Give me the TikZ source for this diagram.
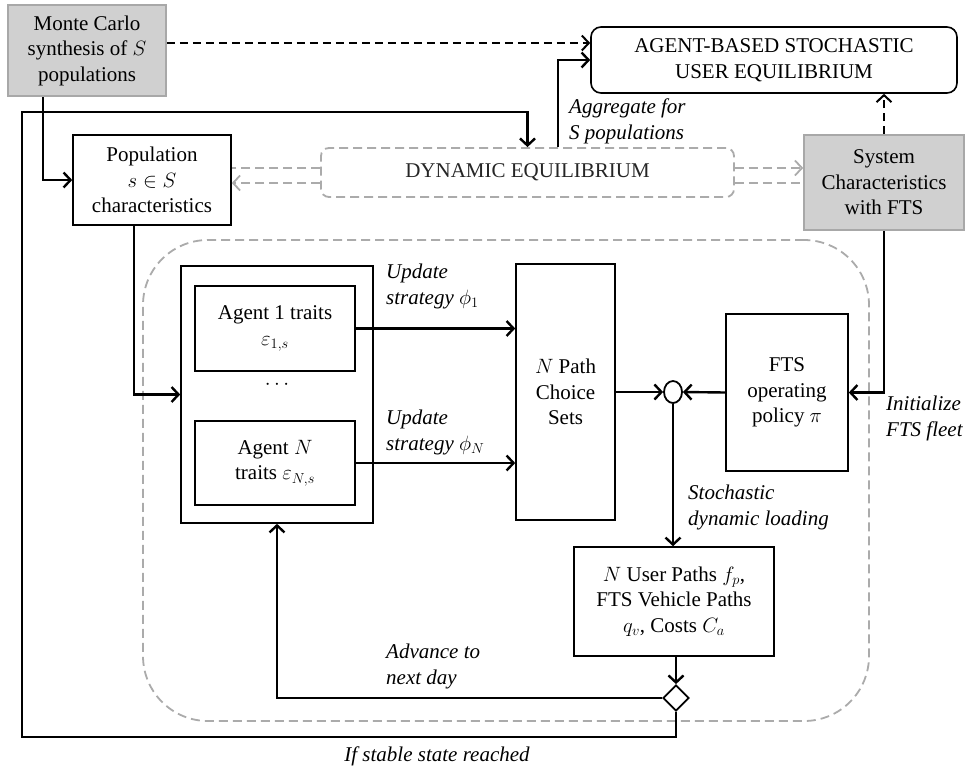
\documentclass[tikz,border=0pt]{standalone}
\usepackage{fontspec}
\setmainfont{Liberation Serif}
\usetikzlibrary{arrows.meta,shapes.geometric,calc}
\definecolor{boxgray}{HTML}{D0D0D0}
\definecolor{edgegray}{HTML}{A8A8A8}
\definecolor{dashgray}{HTML}{ABABAB}
\tikzset{
  every node/.style={font=\fontsize{21}{25.5}\selectfont},
  blk/.style={draw=black, line width=1.6pt, inner sep=0pt, align=center, fill=white},
  shaded/.style={draw=edgegray, line width=1.6pt, fill=boxgray, inner sep=0pt, align=center},
  arr/.style={line width=2.4pt, -{Straight Barb[length=7pt,width=15pt]}},
  blkdash/.style={line width=2pt, dash pattern=on 8pt off 5pt, -{Straight Barb[length=7pt,width=15pt]}},
  gdash/.style={draw=dashgray, line width=1.8pt, dash pattern=on 9pt off 5pt},
  garr/.style={gdash, -{Straight Barb[length=7pt,width=15pt]}},
  lbl/.style={font=\fontsize{21}{26}\selectfont\itshape, align=left, inner sep=0pt, anchor=west},
}
\begin{document}
\begin{tikzpicture}[x=1pt, y=-1pt]
\useasboundingbox[fill=white] (0,0) rectangle (966,769);

% container
\node[gdash, rounded corners=65pt, minimum width=726pt, minimum height=481pt, inner sep=0pt] (loopbox) at (506,480.5) {};

% nodes
\node[shaded, minimum width=158pt, minimum height=91pt] (mc) at (87,50.5) {Monte Carlo\\synthesis of $S$\\populations};
\node[blk, rounded corners=10pt, minimum width=366pt, minimum height=66pt] (asue) at (774,60) {AGENT-BASED STOCHASTIC\\USER EQUILIBRIUM};
\node[blk, minimum width=158pt, minimum height=90pt] (pop) at (152,180) {Population\\$s\in S$\\characteristics};
\node[gdash, rounded corners=8pt, minimum width=413pt, minimum height=49pt, inner sep=0pt, text=black!85] (de) at (527.5,172.5) {DYNAMIC EQUILIBRIUM};
\node[shaded, minimum width=160pt, minimum height=95pt] (sys) at (884,182.5) {System\\Characteristics\\with FTS};

\node[blk, minimum width=192pt, minimum height=257pt] (agents) at (277,394.5) {};
\node[blk, minimum width=160pt, minimum height=85pt] (a1) at (275,328.5) {Agent 1 traits\\$\varepsilon_{1,s}$};
\node[inner sep=0pt] (dots) at (277,385) {$\cdots$};
\node[blk, minimum width=160pt, minimum height=84pt] (aN) at (275,463) {Agent $N$\\traits $\varepsilon_{N,s}$};

\node[blk, minimum width=99pt, minimum height=256pt] (pcs) at (565.5,392) {$N$ Path\\Choice\\Sets};
\node[draw=black, line width=1.8pt, ellipse, minimum width=18pt, minimum height=22pt, inner sep=0pt] (circ) at (673,392) {};
\node[blk, minimum width=122pt, minimum height=157pt] (fts) at (787,392.5) {FTS\\operating\\policy $\pi$};
\node[blk, minimum width=200pt, minimum height=109pt] (paths) at (674,601.5) {$N$ User Paths $f_p$,\\FTS Vehicle Paths\\$q_v$, Costs $C_a$};
\node[draw=black, line width=1.8pt, diamond, minimum width=26pt, minimum height=26pt, inner sep=0pt, fill=white] (dia) at (676,698) {};

% connectors
\draw[blkdash] ([yshift=7.5pt]mc.east) -- ([yshift=7.5pt]mc.east -| asue.west);
\draw[arr] ([xshift=30.5pt]de.north) |- (asue.west);
\draw[blkdash] (sys.north) -- (sys.north |- asue.south);

\draw[arr] (dia.south) -- ++(0,25) -| (22,112) -| (de.north);
\draw[arr] ([xshift=-44pt]mc.south) |- (pop.west);
\draw[arr] ([xshift=-18pt]pop.south) |- (agents.west);

\draw[gdash] ([yshift=4.5pt]de.west) -- ([yshift=4.5pt]de.west -| pop.east);
\draw[garr] ([yshift=-10.5pt]de.west) -- ([yshift=-10.5pt]de.west -| pop.east);
\draw[garr] ([yshift=4.5pt]de.east) -- ([yshift=4.5pt]de.east -| sys.west);
\draw[gdash] ([yshift=-10.5pt]de.east) -- ([yshift=-10.5pt]de.east -| sys.west);

\draw[arr] (a1.east) -- (a1.east -| pcs.west);
\draw[arr] (aN.east) -- (aN.east -| pcs.west);
\draw[arr] (pcs.east) -- (circ.west);
\draw[arr] (fts.west) -- (circ.east);
\draw[arr] (sys.south) |- (fts.east);
\draw[arr] (circ.south) -- (circ.south |- paths.north);
\draw[arr] (paths.south -| dia.north) -- (dia.north);
\draw[arr] (dia.west) -| (agents.south);

% labels
\node[lbl] (lagg) at (569,121) {Aggregate for\\S populations};
\node[lbl] (lup1) at (386,286) {Update\\strategy $\phi_1$};
\node[lbl] (lupN) at (386,432) {Update\\strategy $\phi_N$};
\node[lbl] (linit) at (886,418) {Initialize\\FTS fleet};
\node[lbl] (lsto) at (688,507) {Stochastic\\dynamic loading};
\node[lbl] (ladv) at (386,666) {Advance to\\next day};
\node[lbl, anchor=center] (lstab) at (437,756) {If stable state reached};
\end{tikzpicture}
\end{document}
